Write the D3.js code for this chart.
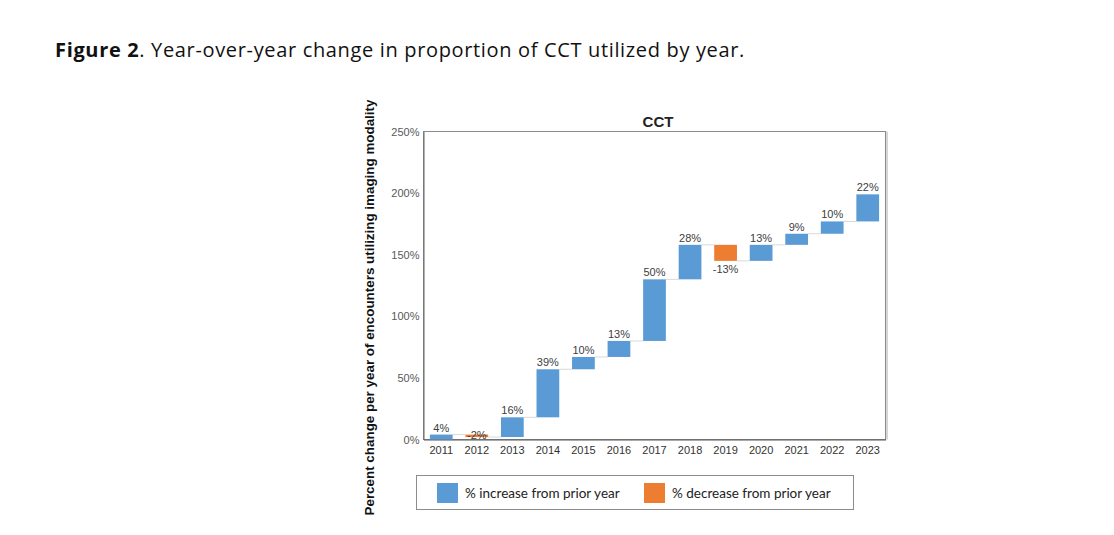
<!DOCTYPE html>
<html>
<head>
<meta charset="utf-8">
<script src="https://cdn.jsdelivr.net/npm/d3@7"></script>
<style>
  html, body { margin: 0; padding: 0; background: #fff; }
  svg { display: block; }
</style>
</head>
<body>
<svg id="chart" width="1114" height="535"></svg>
<script>
// ---- data ----
const years = ["2011","2012","2013","2014","2015","2016","2017","2018","2019","2020","2021","2022","2023"];
const changes = [4, -2, 16, 39, 10, 13, 50, 28, -13, 13, 9, 10, 22];
const yTicks = [0, 50, 100, 150, 200, 250];
const legendLabels = ["% increase from prior year", "% decrease from prior year"];
const colors = { up: "#5B9BD5", down: "#ED7D31" };

// ---- build waterfall rows ----
const ends = Array.from(d3.cumsum(changes));
const rows = years.map((yr, i) => ({
  year: yr, change: changes[i],
  start: i === 0 ? 0 : ends[i - 1], end: ends[i]
}));

const svg = d3.select("#chart");

// caption
const cap = svg.append("text").attr("x", 55).attr("y", 57)
  .style("font-family", "'Open Sans', Lato, sans-serif").style("font-size", "20px").attr("fill", "#111");
cap.append("tspan").attr("font-weight", "bold").text("Figure 2");
cap.append("tspan").text(". Year-over-year change in proportion of CCT utilized by year.");
{
  const len = cap.node().getComputedTextLength();
  const n = cap.text().length;
  const ls = (690 - len) / n;
  if (ls > 0) cap.style("letter-spacing", ls + "px");
}

// plot area
const L = 423.5, R = 885.5, T = 131.5, B = 439.5;
const x = d3.scaleBand().domain(years).range([L, R]).paddingInner(0.36).paddingOuter(0.18);
const y = d3.scaleLinear().domain([0, 250]).range([B, T]);

// frame
svg.append("rect").attr("x", L).attr("y", T).attr("width", R - L).attr("height", B - T)
  .attr("fill", "none").attr("stroke", "#8c8c8c").attr("stroke-width", 1);
svg.append("line").attr("x1", R + 1.5).attr("x2", R + 1.5).attr("y1", T).attr("y2", B)
  .attr("stroke", "#c8c8c8").attr("stroke-width", 1.5);

// title
svg.append("text").attr("x", 658).attr("y", 127).attr("text-anchor", "middle")
  .style("font-family", "Arial, 'Liberation Sans', sans-serif").style("font-size", "15px")
  .attr("font-weight", "bold").attr("fill", "#222").text("CCT");

// y axis
const yAxis = d3.axisLeft(y).tickValues(yTicks).tickSize(0).tickPadding(4)
  .tickFormat(d => d + "%");
const gy = svg.append("g").attr("transform", `translate(${L},0)`).call(yAxis);
gy.select(".domain").attr("stroke", "#666");
gy.selectAll("text").style("font-family", "Arial, 'Liberation Sans', sans-serif")
  .style("font-size", "11px").attr("fill", "#595959");

// x axis
const xAxis = d3.axisBottom(x).tickSize(0).tickPadding(7);
const gx = svg.append("g").attr("transform", `translate(0,${B})`).call(xAxis);
gx.select(".domain").attr("stroke", "#555");
gx.selectAll("text").style("font-family", "Arial, 'Liberation Sans', sans-serif")
  .style("font-size", "11px").attr("fill", "#333");

// connectors
svg.append("g").selectAll("line").data(rows.slice(0, -1)).join("line")
  .attr("x1", d => x(d.year) + x.bandwidth())
  .attr("x2", (d, i) => x(years[i + 1]))
  .attr("y1", d => y(d.end)).attr("y2", d => y(d.end))
  .attr("stroke", "#d9d9d9").attr("stroke-width", 1);

// bars
svg.append("g").selectAll("rect").data(rows).join("rect")
  .attr("x", d => x(d.year)).attr("width", x.bandwidth())
  .attr("y", d => y(Math.max(d.start, d.end)))
  .attr("height", d => Math.abs(y(d.start) - y(d.end)))
  .attr("fill", d => d.change >= 0 ? colors.up : colors.down);

// value labels
svg.append("g").selectAll("text").data(rows).join("text")
  .attr("x", d => x(d.year) + x.bandwidth() / 2)
  .attr("y", d => d.change >= 0 ? y(d.end) - 3 : Math.min(y(d.end) + 12, y(0) - 0.5))
  .attr("text-anchor", "middle")
  .style("font-family", "Arial, 'Liberation Sans', sans-serif").style("font-size", "11px")
  .attr("fill", "#404040").text(d => d.change + "%");

// y axis title
svg.append("text").attr("transform", "translate(374,307.5) rotate(-90)")
  .attr("text-anchor", "middle")
  .style("font-family", "Arial, 'Liberation Sans', sans-serif").style("font-size", "13.4px")
  .attr("font-weight", "bold").attr("fill", "#111")
  .text("Percent change per year of encounters utilizing imaging modality");

// legend
svg.append("rect").attr("x", 416.5).attr("y", 475.5).attr("width", 437).attr("height", 34)
  .attr("fill", "#fff").attr("stroke", "#8c8c8c");
const lg = svg.append("g").selectAll("g").data(legendLabels).join("g")
  .attr("transform", (d, i) => `translate(${i === 0 ? 437 : 644},483)`);
lg.append("rect").attr("width", 21).attr("height", 20)
  .attr("fill", (d, i) => i === 0 ? colors.up : colors.down);
lg.append("text").attr("x", 28).attr("y", 14.5)
  .style("font-family", "Lato, 'Open Sans', sans-serif").style("font-size", "13.5px")
  .attr("fill", "#222").text(d => d);
</script>
</body>
</html>
